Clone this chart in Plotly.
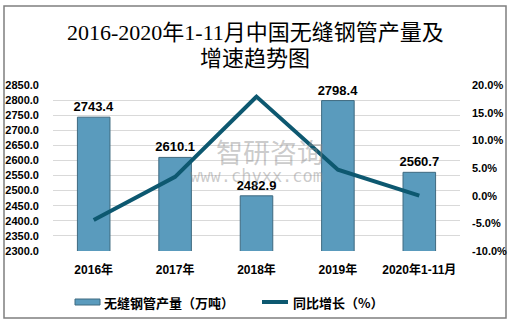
import plotly.graph_objects as go

categories = ["2016年", "2017年", "2018年", "2019年", "2020年1-11月"]
output = [2743.4, 2610.1, 2482.9, 2798.4, 2560.7]
growth = [-4.4, 3.4, 17.9, 4.7, 0.0]
left_ticks = [2300 + 50 * i for i in range(12)]
right_ticks = [-10, -5, 0, 5, 10, 15, 20]
bar_name = "无缝钢管产量（万吨）"
line_name = "同比增长（%）"

W, H = 512, 326
L, R, T, B = 53, 52, 85, 75
pw, ph = W - L - R, H - T - B

BAR_COLOR = "#5a9bbd"
BAR_EDGE = "#3f6a80"
LINE_COLOR = "#0d5870"

def px_x(x):
    return (x - L) / pw

def px_y(y):
    return (H - B - y) / ph

fig = go.Figure()
fig.add_trace(go.Bar(
    x=categories, y=output, name=bar_name,
    marker=dict(color=BAR_COLOR, line=dict(color=BAR_EDGE, width=1)),
    text=[f"{v:.1f}" for v in output], textposition="outside", constraintext="none",
    textfont=dict(family="Liberation Sans", size=13, color="#000000", weight="bold"),
    cliponaxis=False, showlegend=False,
))
fig.add_trace(go.Scatter(
    x=categories, y=growth, name=line_name, yaxis="y2",
    mode="lines", line=dict(color=LINE_COLOR, width=4), showlegend=False,
))

ann_common = dict(xref="paper", yref="paper", showarrow=False)
fig.update_layout(
    width=W, height=H, margin=dict(l=L, r=R, t=T, b=B, autoexpand=False),
    paper_bgcolor="white", plot_bgcolor="white",
    bargap=0.6,
    xaxis=dict(showgrid=False, showline=False, ticks="", ticklabelstandoff=10, automargin=False,
               tickfont=dict(family="Liberation Sans, Noto Sans CJK SC", size=12, color="#000000", weight="bold")),
    yaxis=dict(range=[2300, 2850], tickvals=left_ticks, ticktext=[f"{v:.1f}" for v in left_ticks],
               showgrid=True, gridcolor="#d9d9d9", gridwidth=1, zeroline=False, showline=False,
               tickfont=dict(family="Liberation Sans", size=11, color="#000000", weight="bold"),
               ticklabelstandoff=13, automargin=False),
    yaxis2=dict(range=[-10, 20], overlaying="y", side="right", tickvals=right_ticks,
                ticktext=[f"{v:.1f}%" for v in right_ticks], showgrid=False, zeroline=False,
                tickfont=dict(family="Liberation Sans", size=11, color="#000000", weight="bold"),
                ticklabelstandoff=11, automargin=False),
    shapes=[
        dict(type="rect", xref="paper", yref="paper",
             x0=px_x(4), x1=px_x(506), y0=px_y(318), y1=px_y(6),
             line=dict(color="#7f7f7f", width=1.5), fillcolor="rgba(0,0,0,0)", layer="below"),
        # legend symbols
        dict(type="rect", xref="paper", yref="paper",
             x0=px_x(75), x1=px_x(100), y0=px_y(305), y1=px_y(299),
             line=dict(color=BAR_EDGE, width=1), fillcolor=BAR_COLOR),
        dict(type="line", xref="paper", yref="paper",
             x0=px_x(262), x1=px_x(288), y0=px_y(302), y1=px_y(302),
             line=dict(color=LINE_COLOR, width=4)),
    ],
    annotations=[
        dict(text="2016-2020年1-11月中国无缝钢管产量及", x=px_x(255), y=px_y(32), xanchor="center", yanchor="middle",
             font=dict(family="Liberation Serif, Noto Sans CJK SC", size=22, color="#000000"), **ann_common),
        dict(text="增速趋势图", x=px_x(255), y=px_y(58), xanchor="center", yanchor="middle",
             font=dict(family="Liberation Serif, Noto Sans CJK SC", size=22, color="#000000"), **ann_common),
        dict(text=bar_name, x=px_x(102), y=px_y(302), xanchor="left", yanchor="middle",
             font=dict(family="Noto Sans CJK SC", size=13, color="#000000", weight="bold"), **ann_common),
        dict(text=line_name, x=px_x(291), y=px_y(302), xanchor="left", yanchor="middle",
             font=dict(family="Noto Sans CJK SC", size=13, color="#000000", weight="bold"), **ann_common),
        dict(text="智研咨询", x=px_x(270), y=px_y(151), xanchor="center", yanchor="middle",
             font=dict(family="Noto Sans CJK SC", size=27, color="rgba(140,140,140,0.45)"), **ann_common),
        dict(text="www.chyxx.com", x=px_x(256), y=px_y(176), xanchor="center", yanchor="middle",
             font=dict(family="DejaVu Sans Mono", size=17, color="rgba(140,140,140,0.45)"), **ann_common),
    ],
)
fig.write_html("out.html")
